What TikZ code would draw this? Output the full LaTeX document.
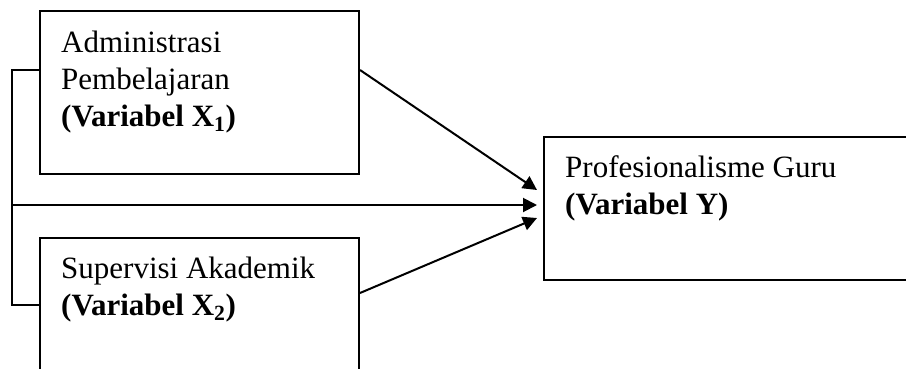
\documentclass[tikz,border=0pt]{standalone}
\usepackage{fontspec}
\setmainfont{Liberation Serif}
\usetikzlibrary{arrows.meta,calc}
\tikzset{
  box/.style={draw, line width=2pt, rectangle, inner sep=0pt, anchor=north west},
  lbl/.style={anchor=base west, align=left, inner sep=0pt, font=\fontsize{31}{37}\selectfont},
  conn/.style={line width=2pt},
  arr/.style={line width=2pt, -{Triangle[length=14pt,width=14pt]}}
}
\begin{document}
\begin{tikzpicture}[x=1pt,y=-1pt]
\useasboundingbox (0,0) rectangle (906,368);
\clip (0,0) rectangle (906,368);
\node[box, minimum width=319pt, minimum height=163pt] (b1) at (39,10) {};
\node[box, minimum width=319pt, minimum height=200pt] (b2) at (39,237) {};
\node[box, minimum width=420pt, minimum height=143pt] (b3) at (543,136) {};
\node[lbl] (t1) at (61,126) {Administrasi\\Pembelajaran\\\textbf{(Variabel X\textsubscript{1})}};
\node[lbl] (t2) at (61,315) {Supervisi Akademik\\\textbf{(Variabel X\textsubscript{2})}};
\node[lbl] (t3) at (565,214) {Profesionalisme Guru\\\textbf{(Variabel Y)}};
\coordinate (brt) at (12,70);
\coordinate (brb) at (12,305);
\coordinate (brm) at (12,205);
\coordinate (s2) at ($(b2.north east)+(0,56)$);
\coordinate (e1) at ($(b3.north west)+(-6,54)$);
\coordinate (e0) at ($(b3.north west)+(-6,69)$);
\coordinate (e2) at ($(b3.north west)+(-6,82)$);
\draw[conn] (b1.west |- brt) -- (brt) -- (brb) -- (b2.west |- brb);
\draw[arr] (brm) -- (e0);
\draw[arr] (b1.east |- brt) -- (e1);
\draw[arr] (s2) -- (e2);
\end{tikzpicture}
\end{document}
